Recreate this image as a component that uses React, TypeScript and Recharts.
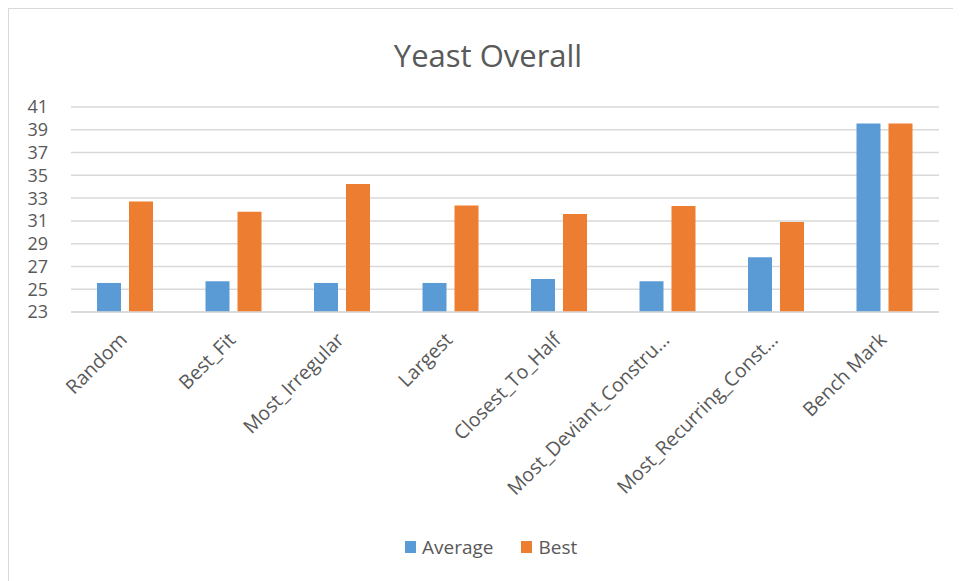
import React from 'react';
import { BarChart, Bar, XAxis, YAxis, CartesianGrid, Legend } from 'recharts';

const categories = [
  'Random',
  'Best_Fit',
  'Most_Irregular',
  'Largest',
  'Closest_To_Half',
  'Most_Deviant_Constru...',
  'Most_Recurring_Const...',
  'Bench Mark',
];
const averageValues = [25.55, 25.7, 25.55, 25.55, 25.9, 25.7, 27.8, 39.55];
const bestValues = [32.7, 31.8, 34.25, 32.35, 31.6, 32.3, 30.9, 39.55];
const yTicks = [23, 25, 27, 29, 31, 33, 35, 37, 39, 41];

const FONT = '"Open Sans", "Noto Sans", sans-serif';
const TEXT = '#595959';
const GRID = '#d9d9d9';
const BLUE = '#5B9BD5';
const ORANGE = '#ED7D31';

const data = categories.map((name, i) => ({
  name,
  Average: averageValues[i],
  Best: bestValues[i],
}));

// slanted category labels, text ends at the tick
function SlantTick(props: any) {
  const { x, y, payload } = props;
  return (
    <g transform={`translate(${x + 3},${y + 21})`}>
      <text
        transform="rotate(-45)"
        textAnchor="end"
        fill={TEXT}
        fontSize={19.5}
        fontFamily={FONT}
      >
        {payload.value}
      </text>
    </g>
  );
}

function LegendContent(props: any) {
  const items = props.payload || [];
  return (
    <div style={{ display: 'flex', alignItems: 'center', fontFamily: FONT, fontSize: 19, color: TEXT }}>
      {items.map((it: any) => (
        <div key={it.value} style={{ display: 'flex', alignItems: 'center', marginRight: 28 }}>
          <span style={{ width: 11, height: 12, background: it.color, marginRight: 6, display: 'inline-block' }} />
          <span>{it.value}</span>
        </div>
      ))}
    </div>
  );
}

export default function App() {
  return (
    <div
      style={{
        position: 'relative',
        width: 953,
        height: 573,
        boxSizing: 'border-box',
        borderTop: `1px solid ${GRID}`,
        borderLeft: `1px solid ${GRID}`,
        overflow: 'hidden',
        background: '#fff',
      }}
    >
      <div
        style={{
          position: 'absolute',
          left: 371,
          top: 26,
          width: 216,
          textAlign: 'center',
          fontFamily: FONT,
          fontSize: 31,
          lineHeight: '40px',
          color: TEXT,
          whiteSpace: 'nowrap',
        }}
      >
        Yeast Overall
      </div>
      <BarChart
        width={952}
        height={572}
        data={data}
        margin={{ top: 98, right: 22, bottom: 60, left: 0 }}
        barSize={24}
        barGap={8}
      >
        <CartesianGrid vertical={false} stroke={GRID} strokeWidth={1.5} />
        <XAxis
          dataKey="name"
          interval={0}
          height={183}
          tick={<SlantTick />}
          tickLine={false}
          axisLine={{ stroke: GRID, strokeWidth: 1.5 }}
        />
        <YAxis
          width={62}
          domain={[23, 41]}
          ticks={yTicks}
          interval={0}
          allowDataOverflow
          axisLine={false}
          tickLine={false}
          tickMargin={17}
          tick={{ fill: TEXT, fontSize: 18, fontFamily: FONT }}
        />
        <Legend
          content={<LegendContent />}
          wrapperStyle={{ position: 'absolute', top: 525, left: 396, width: 'auto' }}
        />
        <Bar dataKey="Average" fill={BLUE} isAnimationActive={false} />
        <Bar dataKey="Best" fill={ORANGE} isAnimationActive={false} />
      </BarChart>
    </div>
  );
}
